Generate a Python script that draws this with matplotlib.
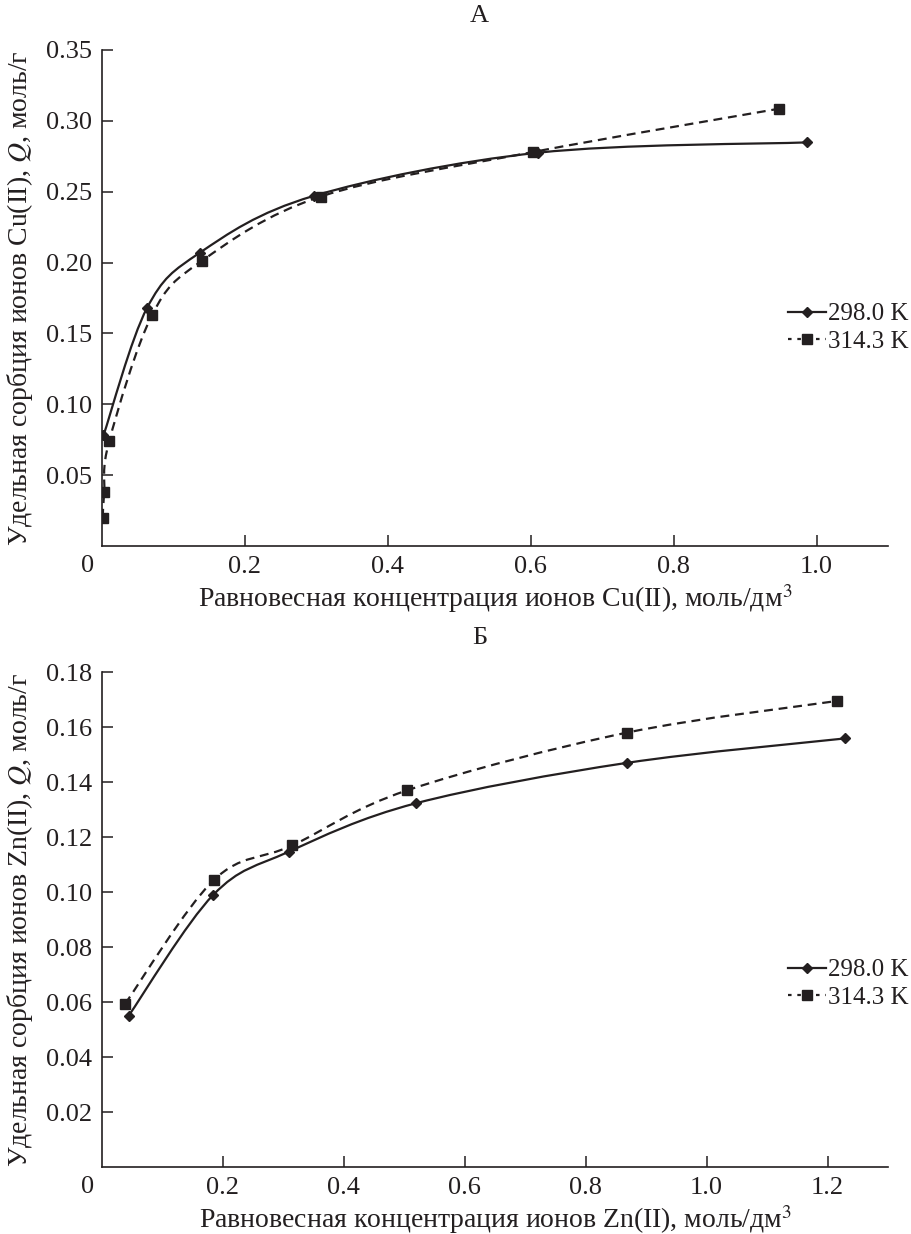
import numpy as np
import matplotlib
matplotlib.use('Agg')
import matplotlib.pyplot as plt
from matplotlib.path import Path
from matplotlib.patches import PathPatch
from matplotlib.lines import Line2D

plt.rcParams['font.family'] = ['Liberation Serif', 'DejaVu Serif']
plt.rcParams['mathtext.fontset'] = 'stix'

# Данные, панель А (Cu(II))
cu_x_298 = [0.002, 0.063, 0.137, 0.296, 0.610, 0.987]
cu_q_298 = [0.078, 0.168, 0.207, 0.247, 0.2775, 0.2848]
cu_x_314 = [0.001, 0.003, 0.010, 0.070, 0.140, 0.306, 0.603, 0.948]
cu_q_314 = [0.020, 0.038, 0.074, 0.163, 0.2013, 0.2466, 0.278, 0.3086]

# Данные, панель Б (Zn(II))
zn_x_298 = [0.044, 0.184, 0.309, 0.519, 0.868, 1.229]
zn_q_298 = [0.055, 0.099, 0.1147, 0.1323, 0.147, 0.1559]
zn_x_314 = [0.038, 0.185, 0.315, 0.5045, 0.868, 1.215]
zn_q_314 = [0.0593, 0.1044, 0.117, 0.137, 0.158, 0.1695]

labels = ['298.0 K', '314.3 K']
col = '#231f20'


def smooth_path(x, y):
    # сглаженная линия как в Excel (кривые Безье через точки)
    pts = np.column_stack([x, y]).astype(float)
    n = len(pts)
    verts = [pts[0]]
    codes = [Path.MOVETO]
    for i in range(n - 1):
        p0 = pts[i - 1] if i > 0 else pts[i]
        p1 = pts[i]
        p2 = pts[i + 1]
        p3 = pts[i + 2] if i + 2 < n else pts[i + 1]
        verts += [p1 + (p2 - p0) / 6, p2 - (p3 - p1) / 6, p2]
        codes += [Path.CURVE4] * 3
    return Path(verts, codes)


def draw_panel(ax, x1, q1, x2, q2, xmax, ymax, xticks, yticks, title, ion, leg_y):
    lw = 1.6
    ax.add_patch(PathPatch(smooth_path(x1, q1), fill=False, lw=lw, color=col, ls='-'))
    ax.add_patch(PathPatch(smooth_path(x2, q2), fill=False, lw=lw, color=col,
                           ls=(0, (4, 2.6))))
    ax.plot(x1, q1, ls='none', marker='D', ms=5.5, color=col)
    ax.plot(x2, q2, ls='none', marker='s', ms=7, color=col)

    ax.set_xlim(0, xmax)
    ax.set_ylim(0, ymax)
    ax.set_xticks(xticks)
    ax.set_xticklabels([f'{t:.1f}' for t in xticks])
    ax.set_yticks(yticks)
    ax.set_yticklabels([f'{t:.2f}' for t in yticks])
    for s in ['top', 'right']:
        ax.spines[s].set_visible(False)
    for s in ['left', 'bottom']:
        ax.spines[s].set_linewidth(1.2)
        ax.spines[s].set_color(col)
    ax.tick_params(direction='in', length=8, width=1.1, color=col,
                   labelsize=19, pad=7, labelcolor=col)
    ax.text(-0.018, -0.018, '0', transform=ax.transAxes, ha='center', va='top',
            fontsize=19, color=col)

    ax.set_xlabel('Равновесная концентрация ионов ' + ion + ', моль/дм$^3$',
                  fontsize=20, color=col, labelpad=3)
    ax.set_ylabel('Удельная сорбция ионов ' + ion + ', $\\it{Q}$, моль/г',
                  fontsize=20, color=col, labelpad=8)
    ax.set_title(title, fontsize=19, color=col, x=0.48, pad=20)

    handles = [Line2D([], [], color=col, lw=lw, marker='D', ms=5),
               Line2D([], [], color=col, lw=lw, marker='s', ms=6.5, ls=(0, (1.6, 2.6)))]
    ax.legend(handles, labels, loc='center left', bbox_to_anchor=(0.86, leg_y),
              frameon=False, fontsize=18, handlelength=1.5, handletextpad=0.1,
              labelspacing=0.2, borderaxespad=0, labelcolor=col)


fig = plt.figure(figsize=(9.11, 12.34), dpi=100)
ax1 = fig.add_axes([0.112, 0.5575, 0.8628, 0.402])
ax2 = fig.add_axes([0.112, 0.0543, 0.8628, 0.401])

draw_panel(ax1, cu_x_298, cu_q_298, cu_x_314, cu_q_314, 1.1, 0.35,
           [0.2, 0.4, 0.6, 0.8, 1.0], [0.05, 0.10, 0.15, 0.20, 0.25, 0.30, 0.35],
           'А', 'Cu(II)', 0.44)
draw_panel(ax2, zn_x_298, zn_q_298, zn_x_314, zn_q_314, 1.3, 0.18,
           [0.2, 0.4, 0.6, 0.8, 1.0, 1.2], [0.02, 0.04, 0.06, 0.08, 0.10, 0.12, 0.14, 0.16, 0.18],
           'Б', 'Zn(II)', 0.37)

fig.savefig('out.png', dpi=100)
